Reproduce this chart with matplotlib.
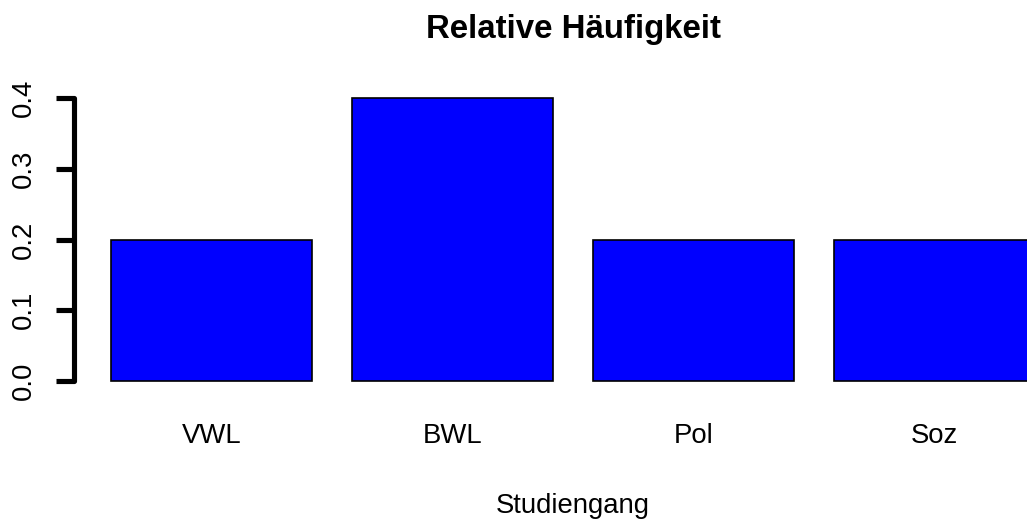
import matplotlib
matplotlib.use("Agg")
import matplotlib.pyplot as plt

categories = ["VWL", "BWL", "Pol", "Soz"]
values = [0.2, 0.4, 0.2, 0.2]
yticks = [0.0, 0.1, 0.2, 0.3, 0.4]
ytick_labels = ["0.0", "0.1", "0.2", "0.3", "0.4"]

plt.rcParams['font.family'] = ['Liberation Sans', 'DejaVu Sans']

W, H = 1027, 526
fig = plt.figure(figsize=(W / 100, H / 100), dpi=100)

# R barplot geometry: width 1, space 0.2
x_left = [0.2 + i * 1.2 for i in range(len(categories))]
centers = [x + 0.5 for x in x_left]
xlim = (0.016, 4.984)
ylim = (-0.016, 0.416)

left_px, right_px = 74, 1072
top_px, bottom_px = 86.7, 392.3
ax = fig.add_axes([left_px / W, 1 - bottom_px / H,
                   (right_px - left_px) / W, (bottom_px - top_px) / H])

ax.bar(centers, values, width=1.0, color="#0000FF", edgecolor="black",
       linewidth=1.2)
ax.set_xlim(*xlim)
ax.set_ylim(*ylim)

for s in ["top", "right", "bottom"]:
    ax.spines[s].set_visible(False)
ax.spines["left"].set_bounds(0, 0.4)
ax.spines["left"].set_linewidth(3.7)
ax.spines["left"].set_capstyle("round")

ax.set_yticks(yticks)
ax.set_yticklabels(ytick_labels, rotation=90, va="center", fontsize=19.8)
ax.tick_params(axis="y", length=13, width=3.7, pad=13.5)

ax.set_xticks(centers)
ax.set_xticklabels(categories, fontsize=19.8)
ax.tick_params(axis="x", length=0, pad=22)

fig.text(573 / W, 1 - 38 / H, "Relative Häufigkeit", ha="center",
         va="baseline", fontsize=23.8, fontweight="bold")
fig.text(573 / W, 1 - 513 / H, "Studiengang", ha="center", va="baseline",
         fontsize=19.8)

fig.savefig("out.png", dpi=100)
